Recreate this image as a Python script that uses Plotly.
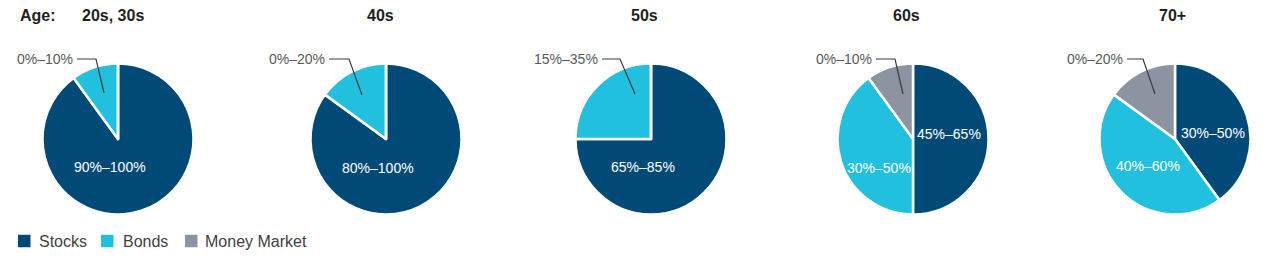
import plotly.graph_objects as go

# ---- data ----
ages = ["20s, 30s", "40s", "50s", "60s", "70+"]
assets = ["Stocks", "Bonds", "Money Market"]
stocks = [90, 85, 75, 50, 40]
bonds = [10, 15, 25, 40, 45]
money = [0, 0, 0, 10, 15]
stock_labels = ["90%–100%", "80%–100%", "65%–85%", "45%–65%", "30%–50%"]
bond_labels = ["0%–10%", "0%–20%", "15%–35%", "30%–50%", "40%–60%"]
money_labels = ["", "", "", "0%–10%", "0%–20%"]

# ---- layout / style ----
W, H = 1280, 263
colors = ["#014a78", "#21c0de", "#8b94a0"]
centers_x = [118, 386, 651, 913, 1175]
cy = 139
R = 75.5
title_dx = [-5, -6, -7, -7, -3]
# inside label offsets (px from centre) : stocks, bonds
stock_lab_off = [(-8, 28), (-8, 29), (-8, 28), (36, -5), (38, -6)]
bond_lab_off = [None, None, None, (-34, 29), (-27, 27)]
# outside label: text right end dx, elbow dx, tip (dx, dy)
out_text_dx = [-43, -59, -51, -39, -50]
out_elbow_dx = [-22, -37, -31, -18, -32]
out_tip = [(-14, -46), (-24, -44), (-16, -45), (-10, -45), (-20, -45)]
out_y = 59
# legend layout
leg_sq_x = [18, 101, 185]
leg_txt_x = [37, 121, 203]
leg_y = 241
leg_sq = 12.5

FONT = "Liberation Sans, Arial, Helvetica, sans-serif"
TFONT = "Liberation Sans, Arial, Helvetica, sans-serif"


def px(x):
    return x / W


def py(y):
    return 1 - y / H


fig = go.Figure()
for i, age in enumerate(ages):
    cx = centers_x[i]
    fig.add_trace(go.Pie(
        labels=assets,
        values=[stocks[i], bonds[i], money[i]],
        sort=False,
        direction="clockwise",
        rotation=0,
        textinfo="none",
        hoverinfo="label+percent",
        marker=dict(colors=colors, line=dict(color="white", width=2.5)),
        domain=dict(x=[px(cx - R), px(cx + R)], y=[py(cy + R), py(cy - R)]),
        showlegend=False,
        name=age,
    ))

annotations = []
shapes = []
# Age header
annotations.append(dict(x=px(18), y=py(16), xref="paper", yref="paper", text="<b>Age:</b>",
                        showarrow=False, xanchor="left", yanchor="middle",
                        font=dict(family=TFONT, size=16, color="#231f20")))
for i, age in enumerate(ages):
    cx = centers_x[i]
    annotations.append(dict(x=px(cx + title_dx[i]), y=py(16), xref="paper", yref="paper",
                            text=f"<b>{age}</b>", showarrow=False, xanchor="center",
                            yanchor="middle", font=dict(family=TFONT, size=16, color="#231f20")))
    # inside labels
    sx, sy = stock_lab_off[i]
    annotations.append(dict(x=px(cx + sx), y=py(cy + sy), xref="paper", yref="paper",
                            text=stock_labels[i], showarrow=False, xanchor="center",
                            yanchor="middle", font=dict(family=FONT, size=14, color="white")))
    if bond_lab_off[i] is not None:
        bx, by = bond_lab_off[i]
        annotations.append(dict(x=px(cx + bx), y=py(cy + by), xref="paper", yref="paper",
                                text=bond_labels[i], showarrow=False, xanchor="center",
                                yanchor="middle", font=dict(family=FONT, size=14, color="white")))
        out_text = money_labels[i]
    else:
        out_text = bond_labels[i]
    # outside label + leader line
    annotations.append(dict(x=px(cx + out_text_dx[i]), y=py(out_y), xref="paper", yref="paper",
                            text=out_text, showarrow=False, xanchor="right", yanchor="middle",
                            font=dict(family=FONT, size=14, color="#58595b")))
    tx, ty = out_tip[i]
    x0 = cx + out_text_dx[i] + 2
    x1 = cx + out_elbow_dx[i]
    path = f"M{px(x0)},{py(out_y)} L{px(x1)},{py(out_y)} L{px(cx + tx)},{py(cy + ty)}"
    shapes.append(dict(type="path", path=path, xref="paper", yref="paper",
                       line=dict(color="#3a3a3a", width=1.2)))

# legend (drawn manually)
for j, name in enumerate(assets):
    x0 = leg_sq_x[j]
    shapes.append(dict(type="rect", xref="paper", yref="paper",
                       x0=px(x0), x1=px(x0 + leg_sq),
                       y0=py(leg_y + leg_sq / 2), y1=py(leg_y - leg_sq / 2),
                       fillcolor=colors[j], line=dict(width=0)))
    annotations.append(dict(x=px(leg_txt_x[j]), y=py(leg_y), xref="paper", yref="paper",
                            text=name, showarrow=False, xanchor="left", yanchor="middle",
                            font=dict(family=FONT, size=16, color="#414042")))

fig.update_layout(
    width=W, height=H,
    margin=dict(l=0, r=0, t=0, b=0),
    paper_bgcolor="white", plot_bgcolor="white",
    annotations=annotations, shapes=shapes,
    showlegend=False,
)

fig.write_html("out.html")
